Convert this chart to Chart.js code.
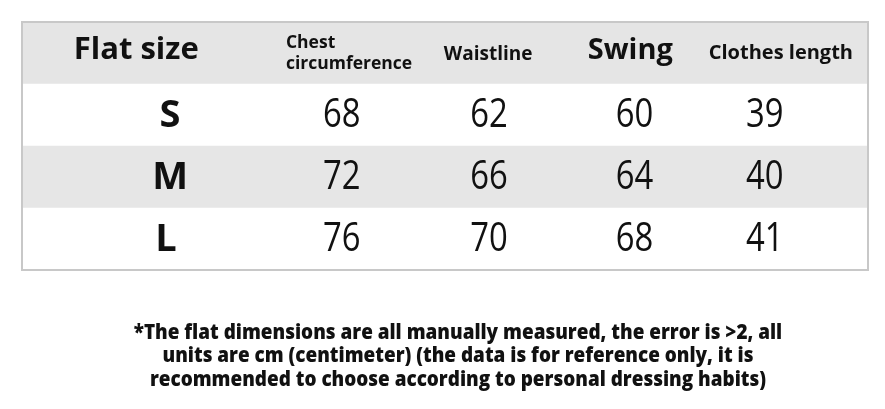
<!DOCTYPE html>
<html><head><meta charset="utf-8">
<script src="https://cdn.jsdelivr.net/npm/chart.js@4.4.0/dist/chart.umd.min.js"></script>
<style>html,body{margin:0;padding:0;background:#fff}#wrap{width:885px;height:409px;position:relative}</style>
</head><body><div id="wrap"><canvas id="c" width="885" height="409"></canvas></div>
<script>
const headers = ['Flat size', 'Chest\ncircumference', 'Waistline', 'Swing', 'Clothes length'];
const sizes = ['S', 'M', 'L'];
const chest = [68, 72, 76];
const waist = [62, 66, 70];
const swing = [60, 64, 68];
const length = [39, 40, 41];
const note = [
  '*The flat dimensions are all manually measured, the error is >2, all',
  'units are cm (centimeter) (the data is for reference only, it is',
  'recommended to choose according to personal dressing habits)'
];

const rowLabels = ['header'].concat(sizes);
const rowColors = ['#e5e5e5', '#ffffff', '#e6e6e6', '#ffffff'];
// column centres as fractions of table width (layout)
const colCenter = [0.135, 0.384, 0.551, 0.719, 0.897];
const valueCenter = [0.175, 0.378, 0.552, 0.724, 0.878];
const FONT = '"Open Sans", "Noto Sans", sans-serif';

const tablePlugin = {
  id: 'tableText',
  afterDatasetsDraw(chart) {
    const ctx = chart.ctx, ca = chart.chartArea;
    const xs = chart.scales.x, ys = chart.scales.y;
    const X = f => xs.getPixelForValue(f);
    ctx.save();
    ctx.fillStyle = '#111';
    ctx.textBaseline = 'middle';
    // header
    const hy = ys.getPixelForValue(0);
    ctx.textAlign = 'center';
    ctx.font = 'bold 31px ' + FONT;
    ctx.fillText(headers[0], X(colCenter[0]), hy - 3);
    ctx.font = 'bold 17.5px ' + FONT;
    ctx.textAlign = 'left';
    const ch = headers[1].split('\n');
    ctx.fillText(ch[0], X(0.312), hy - 10);
    ctx.fillText(ch[1], X(0.312), hy + 11);
    ctx.textAlign = 'center';
    ctx.font = 'bold 19px ' + FONT;
    ctx.fillText(headers[2], X(colCenter[2]), hy + 2);
    ctx.font = 'bold 29px ' + FONT;
    ctx.fillText(headers[3], X(colCenter[3]), hy - 2);
    ctx.font = 'bold 20px ' + FONT;
    ctx.fillText(headers[4], X(colCenter[4]), hy);
    // rows
    const cols = [chest, waist, swing, length];
    sizes.forEach((s, i) => {
      const y = ys.getPixelForValue(i + 1);
      ctx.font = 'bold 38px ' + FONT;
      ctx.textAlign = 'center';
      ctx.fillText(s, X(valueCenter[0]) - (s === 'L' ? 4 : 0), y + 1);
      ctx.font = '40px ' + FONT;
      cols.forEach((arr, j) => {
        const cx = X(valueCenter[j + 1]);
        ctx.save();
        ctx.translate(cx, y + 1);
        ctx.scale(0.82, 1);
        ctx.fillText(String(arr[i]), 0, 0);
        ctx.restore();
      });
    });
    // border
    ctx.strokeStyle = '#c8c8c8';
    ctx.lineWidth = 2;
    ctx.strokeRect(ca.left, ca.top, ca.right - ca.left, ca.bottom - ca.top);
    // note
    ctx.fillStyle = '#111';
    ctx.font = '800 21px ' + FONT;
    ctx.textAlign = 'center';
    note.forEach((t, k) => {
      ctx.save();
      ctx.translate(458, 333 + k * 23.5);
      ctx.scale(0.9, 1);
      ctx.fillText(t, 0, 0);
      ctx.restore();
    });
    ctx.restore();
  }
};

new Chart(document.getElementById('c'), {
  type: 'bar',
  data: {
    labels: rowLabels,
    datasets: [{
      data: rowLabels.map(() => [0, 1]),
      backgroundColor: rowColors,
      borderWidth: 0,
      barPercentage: 1,
      categoryPercentage: 1
    }]
  },
  options: {
    indexAxis: 'y',
    responsive: false,
    animation: false,
    layout: { padding: { left: 22, right: 17, top: 22, bottom: 139 } },
    plugins: { legend: { display: false }, tooltip: { enabled: false }, title: { display: false } },
    scales: {
      x: { type: 'linear', min: 0, max: 1, display: false },
      y: { type: 'category', display: false, offset: true }
    }
  },
  plugins: [tablePlugin]
});
</script></body></html>
